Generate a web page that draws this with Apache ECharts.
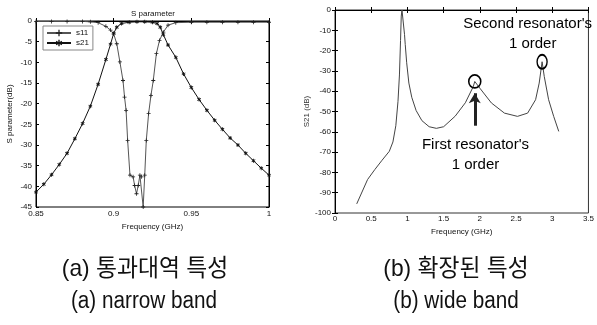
<!DOCTYPE html>
<html><head><meta charset="utf-8">
<script src="https://cdn.jsdelivr.net/npm/echarts@6/dist/echarts.min.js"></script>
<style>html,body{margin:0;padding:0;background:#fff}#c{width:597px;height:325px}</style>
</head><body><div id="c"></div>
<script>
// (a) narrow band
const s11Freq = [0.85,0.86,0.87,0.88,0.885,0.89,0.895,0.898,0.9,0.902,0.904,0.906,0.907,0.908,0.909,0.9105,0.9125,0.9135,0.9147,0.9158,0.9169,0.918,0.919,0.92,0.921,0.9225,0.924,0.9255,0.9275,0.9295,0.932,0.935,0.94,0.95,0.96,0.97,0.98,0.99,1.0];
const s11Db   = [-0.1,-0.1,-0.1,-0.1,-0.2,-0.4,-1.3,-2.2,-3.1,-5.5,-9.9,-14.4,-18.4,-21.6,-28.9,-37.3,-37.7,-39.8,-41.8,-39.8,-37.3,-37.7,-45,-37.3,-28.9,-22.4,-18,-14.4,-7.9,-4.7,-2.7,-1.0,-0.4,-0.3,-0.3,-0.3,-0.3,-0.3,-0.3];
const s21Freq = [0.85,0.855,0.86,0.865,0.87,0.875,0.88,0.885,0.89,0.895,0.898,0.9,0.902,0.905,0.91,0.915,0.92,0.925,0.928,0.93,0.932,0.935,0.94,0.945,0.95,0.955,0.96,0.965,0.97,0.975,0.98,0.985,0.99,0.995,1.0];
const s21Db   = [-41.4,-39.5,-37.2,-34.7,-32.0,-28.5,-24.8,-20.6,-15.3,-9.3,-5.6,-3.0,-1.5,-0.6,-0.3,-0.2,-0.2,-0.3,-0.6,-1.5,-3.3,-5.8,-8.8,-12.8,-16.1,-19.0,-21.6,-24.0,-26.2,-28.3,-30.0,-32.0,-33.8,-35.6,-37.3];
const xTicksA = [0.85,0.9,0.95,1];
// (b) wide band
const wideFreq = [0.30,0.45,0.55,0.65,0.75,0.80,0.84,0.87,0.89,0.905,0.915,0.925,0.945,0.96,0.97,0.99,1.02,1.06,1.12,1.20,1.30,1.40,1.50,1.66,1.80,1.91,1.93,2.00,2.16,2.34,2.52,2.66,2.77,2.82,2.86,2.89,2.95,3.02,3.09];
const wideDb   = [-95.5,-83.5,-78.6,-74,-69.6,-65,-57,-45,-32,-15,-3,0,0,-12,-17,-26,-36,-43,-49.5,-54.5,-57.5,-58.3,-57.5,-52.3,-45.7,-37.7,-35.2,-38.5,-45.8,-50.8,-52.4,-50.8,-44.2,-36,-25.5,-32.8,-44.2,-52.4,-59.8];
const firstPeak = [1.93,-35.2];
const secondPeak = [2.86,-25.5];

const zip = (a,b)=>a.map((v,i)=>[v,b[i]]);
const ax = '#000';
const lbl = {fontSize:8, color:'#111', fontFamily:'Liberation Sans, Arial'};
const plus = 'path://M4,0H6V4H10V6H6V10H4V6H0V4H4Z';
const star = 'path://M4,0H6V3.3L8.6,1.4L9.6,2.8L6.8,5L9.6,7.2L8.6,8.6L6,6.7V10H4V6.7L1.4,8.6L0.4,7.2L3.2,5L0.4,2.8L1.4,1.4L4,3.3Z';
const narrow = 'Liberation Sans Narrow, Liberation Sans, Arial';

function mkX(gi, min, max, interval, opts){
  return Object.assign({type:'value', gridIndex:gi, min, max, interval,
    axisLine:{lineStyle:{color:ax,width:1}}, axisTick:{inside:true,length:3,lineStyle:{color:ax}},
    splitLine:{show:false}, axisLabel:Object.assign({margin:4},lbl)}, opts||{});
}
const chart = echarts.init(document.getElementById('c'));
chart.setOption({
  animation:false,
  backgroundColor:'#fff',
  grid:[
    {left:36, top:21, right:328, bottom:118, show:true, borderColor:'#000', borderWidth:1},
    {left:335, top:10, right:4, bottom:112, show:true, borderColor:'#333', borderWidth:1}
  ],
  legend:{
    data:['s11','s21'], orient:'vertical', left:43, top:26, itemGap:2, itemWidth:24, itemHeight:8,
    padding:[3,4,3,3], borderColor:'#888', borderWidth:1, backgroundColor:'#fff',
    textStyle:{fontSize:8, color:'#111', fontFamily:'Liberation Sans, Arial'}
  },
  xAxis:[
    mkX(0,0.85,1,0.05,{name:'Frequency (GHz)', nameLocation:'middle', nameGap:9,
      nameTextStyle:{fontSize:8,color:'#111',fontFamily:'Liberation Sans, Arial'},
      axisLabel:Object.assign({margin:3, formatter:v=>{const t=xTicksA.find(x=>Math.abs(x-v)<1e-6);return t===undefined?'':String(t);}},lbl)}),
    mkX(0,0.85,1,0.05,{position:'top', axisLabel:{show:false}}),
    mkX(1,0,3.5,0.5,{name:'Frequency (GHz)', nameLocation:'middle', nameGap:9,
      axisLabel:Object.assign({margin:2},lbl),
      nameTextStyle:{fontSize:8,color:'#111',fontFamily:'Liberation Sans, Arial'}}),
    mkX(1,0,3.5,0.5,{position:'top', axisLabel:{show:false}})
  ],
  yAxis:[
    mkX(0,-45,0,5,{name:'S parameter(dB)', nameLocation:'middle', nameGap:22,
      nameTextStyle:{fontSize:8,color:'#111',fontFamily:'Liberation Sans, Arial'}}),
    mkX(0,-45,0,5,{position:'right', axisLabel:{show:false}}),
    mkX(1,-100,0,10,{name:'S21 (dB)', nameLocation:'middle', nameGap:24,
      nameTextStyle:{fontSize:8,color:'#333',fontFamily:'Liberation Sans, Arial'}}),
    mkX(1,-100,0,10,{position:'right', axisLabel:{show:false}})
  ],
  series:[
    {name:'s11', type:'line', xAxisIndex:0, yAxisIndex:0, data:zip(s11Freq,s11Db),
     symbol:plus, symbolSize:4, showAllSymbol:true,
     itemStyle:{color:'#222'}, lineStyle:{color:'#555', width:1}},
    {name:'s21', type:'line', xAxisIndex:0, yAxisIndex:0, data:zip(s21Freq,s21Db),
     symbol:star, symbolSize:4, showAllSymbol:true,
     itemStyle:{color:'#111'}, lineStyle:{color:'#111', width:1}},
    {name:'S21', type:'line', xAxisIndex:2, yAxisIndex:2, data:zip(wideFreq,wideDb),
     symbol:'none', lineStyle:{color:'#444', width:1}, clip:true,
     markPoint:{silent:true, data:[
       {coord:firstPeak, symbol:'circle', symbolSize:[12,13], itemStyle:{color:'rgba(0,0,0,0)', borderColor:'#000', borderWidth:1.6}, label:{show:false}},
       {coord:secondPeak, symbol:'circle', symbolSize:[10,14], itemStyle:{color:'rgba(0,0,0,0)', borderColor:'#000', borderWidth:1.6}, label:{show:false}},
       {coord:[2.66,-6.9], symbol:'circle', symbolSize:0, label:{show:true, formatter:"Second resonator's", fontSize:15, color:'#000', fontFamily:narrow}},
       {coord:[2.73,-16.5], symbol:'circle', symbolSize:0, label:{show:true, formatter:'1 order', fontSize:15, color:'#000', fontFamily:narrow}},
       {coord:[1.94,-66.3], symbol:'circle', symbolSize:0, label:{show:true, formatter:"First resonator's", fontSize:15, color:'#000', fontFamily:narrow}},
       {coord:[1.94,-76.2], symbol:'circle', symbolSize:0, label:{show:true, formatter:'1 order', fontSize:15, color:'#000', fontFamily:narrow}}
     ]},
     markLine:{silent:true, symbol:['none','arrow'], symbolSize:[9,10], label:{show:false},
       lineStyle:{color:'#222', width:3, type:'solid'},
       data:[[{coord:[1.93,-57]},{coord:[1.93,-41]}]]}
    }
  ],
  graphic:[
    {type:'text', x:153, y:14, style:{text:'S parameter', align:'center', verticalAlign:'middle', font:'8px Liberation Sans, Arial', fill:'#111'}},
    {type:'text', x:145, y:269, scaleX:0.95, style:{text:'(a) 통과대역 특성', align:'center', verticalAlign:'middle', font:'24px '+narrow+', Noto Sans CJK KR', fill:'#111'}},
    {type:'text', x:144, y:302, scaleX:0.9, style:{text:'(a) narrow band', align:'center', verticalAlign:'middle', font:'23px '+narrow+', Noto Sans CJK KR', fill:'#111'}},
    {type:'text', x:456, y:269, scaleX:0.95, style:{text:'(b) 확장된 특성', align:'center', verticalAlign:'middle', font:'24px '+narrow+', Noto Sans CJK KR', fill:'#111'}},
    {type:'text', x:456, y:302, scaleX:0.9, style:{text:'(b) wide band', align:'center', verticalAlign:'middle', font:'23px '+narrow+', Noto Sans CJK KR', fill:'#111'}}
  ]
});
</script></body></html>
